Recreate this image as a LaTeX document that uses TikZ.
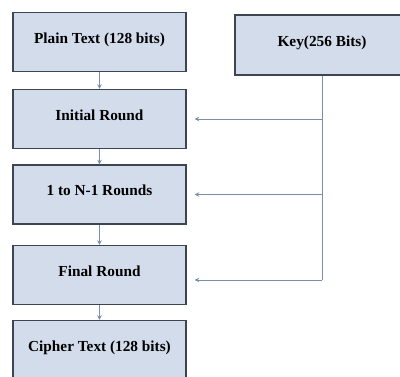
\documentclass[tikz,border=0pt]{standalone}
\usepackage{fontspec}
\setmainfont{Liberation Serif}
\usepackage{tikz}
\usetikzlibrary{arrows.meta}
\definecolor{boxfill}{HTML}{D3DCEB}
\definecolor{boxline}{HTML}{3E4552}
\definecolor{linkline}{HTML}{7A8DAA}
\begin{document}
\begin{tikzpicture}[x=1pt,y=-1pt,
	stage/.style={draw=boxline,line width=1.4pt,fill=boxfill,minimum width=173pt,minimum height=59pt,inner sep=0pt,text depth=8pt,font=\bfseries\fontsize{15.3}{17}\selectfont},
	link/.style={draw=linkline,line width=1pt,-{Stealth[length=4.5pt,width=4.5pt]}}]
	\useasboundingbox (0,0) rectangle (400,376);
	\node[stage] (plain) at (99.5,42) {Plain Text (128 bits)};
	\node[stage] (init) at (99.5,119) {Initial Round};
	\node[stage] (mid) at (99.5,194.5) {1 to N-1 Rounds};
	\node[stage] (final) at (99.5,275) {Final Round};
	\node[stage] (cipher) at (99.5,350) {Cipher Text (128 bits)};
	\node[stage,minimum width=174pt,minimum height=60pt] (key) at (322,45) {Key(256 Bits)};
	\draw[link] (plain) -- (init); \draw[link] (init) -- (mid);
	\draw[link] (mid) -- (final); \draw[link] (final) -- (cipher);
	\coordinate (k1) at (key.south |- init.east); \coordinate (k2) at (key.south |- mid.east);
	\coordinate (k3) at (key.south |- 0,280);
	\draw[draw=linkline,line width=1pt] (key.south) -- (k3);
	\draw[link,shorten >=8pt] (k1) -- (init.east |- k1);
	\draw[link,shorten >=8pt] (k2) -- (mid.east |- k2);
	\draw[link,shorten >=8pt] (k3) -- (final.east |- k3);
\end{tikzpicture}
\end{document}
